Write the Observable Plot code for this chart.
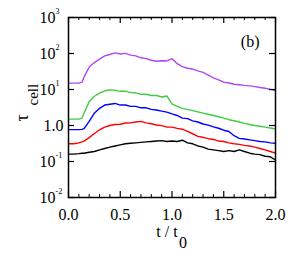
<!DOCTYPE html>
<html><head><meta charset="utf-8">
<script src="https://cdn.jsdelivr.net/npm/d3@7"></script>
<script src="https://cdn.jsdelivr.net/npm/@observablehq/plot@0.6"></script>
<style>
html,body{margin:0;padding:0;background:#fff;}
svg, svg text, svg g { font-family: "Liberation Serif", "Times New Roman", Times, "DejaVu Serif", serif !important; }
</style>
</head><body><div id="chart"></div>
<script>
const t      = [0,0.05,0.1,0.13,0.15,0.2,0.25,0.3,0.35,0.4,0.45,0.5,0.55,0.6,0.65,0.7,0.75,0.8,0.85,0.9,0.95,1.0,1.05,1.1,1.15,1.2,1.25,1.3,1.35,1.4,1.45,1.5,1.55,1.6,1.65,1.7,1.75,1.8,1.85,1.9,1.95,2.0];
const purple = [15,15,15,16,22,42,56,70,86,94,104,97,101,90,86,76,72,65,61,63,62,72,52,43,39,37,33,30,25,21,18.5,16,15.2,14,13.6,13,12.6,12,11.4,10.8,10.1,9.3];
const green  = [1.5,1.5,1.5,1.6,2.2,4.6,6.5,7.9,9.2,9.7,9.6,8.9,9.0,8.2,8.1,7.3,7.4,6.8,6.8,6.2,6.6,4.0,3.4,3.0,2.8,2.6,2.4,2.2,2.05,1.9,1.75,1.6,1.45,1.35,1.25,1.15,1.07,1.0,0.95,0.9,0.85,0.8];
const blue   = [0.77,0.77,0.77,0.78,0.82,1.3,2.2,3.0,3.7,3.9,4.1,3.7,3.7,3.4,3.4,3.1,3.1,2.8,2.7,2.5,2.35,2.1,1.9,1.6,1.55,1.35,1.25,1.1,1.02,0.92,0.84,0.74,0.68,0.52,0.44,0.42,0.4,0.38,0.36,0.35,0.33,0.32];
const red    = [0.31,0.31,0.33,0.35,0.37,0.46,0.6,0.76,0.9,1.0,1.07,1.08,1.17,1.18,1.25,1.3,1.18,1.12,1.03,0.99,0.9,0.9,0.83,0.79,0.69,0.59,0.5,0.47,0.43,0.41,0.37,0.36,0.33,0.31,0.3,0.28,0.27,0.25,0.23,0.21,0.19,0.17];
const black  = [0.16,0.16,0.165,0.17,0.17,0.18,0.19,0.21,0.23,0.25,0.27,0.29,0.31,0.32,0.33,0.34,0.35,0.36,0.37,0.38,0.36,0.37,0.36,0.39,0.33,0.31,0.27,0.25,0.22,0.21,0.2,0.19,0.2,0.19,0.21,0.19,0.17,0.16,0.155,0.14,0.135,0.11];

const seriesNames  = ["s1","s2","s3","s4","s5"];
const seriesValues = [purple, green, blue, red, black];
const seriesColors = ["#b048f0","#40cc40","#0000ff","#ff0000","#000000"];

const xMajor = [0,0.5,1,1.5,2];
const xMinor = [0.1,0.2,0.3,0.4,0.6,0.7,0.8,0.9,1.1,1.2,1.3,1.4,1.6,1.7,1.8,1.9];
const xTickLabels = ["0.0","0.5","1.0","1.5","2.0"];
const yTicks = [0.01,0.1,1,10,100,1000];
const yBase = ["10","10","1.0","10","10","10"];
const yExp  = ["-2","-1","","1","2","3"];

const W = 291, H = 260, mL = 68, mR = 16, mT = 17, mB = 63;
const pw = W - mL - mR, ph = H - mT - mB;

const rows = [];
seriesNames.forEach((s, i) => t.forEach((tt, j) => rows.push({s, t: tt, v: seriesValues[i][j]})));

const yLab = yTicks.map((v, i) => ({v, base: yBase[i], exp: yExp[i]}));

const font = "Liberation Serif";
const chart = Plot.plot({
  width: W, height: H,
  marginLeft: mL, marginRight: mR, marginTop: mT, marginBottom: mB,
  style: {fontFamily: font, fontSize: "15px", background: "white", color: "black"},
  x: {domain: [0, 2], axis: null},
  y: {type: "log", domain: [0.01, 1000], axis: null},
  color: {domain: seriesNames, range: seriesColors},
  marks: [
    Plot.line(rows, {x: "t", y: "v", z: "s", stroke: "s", strokeWidth: 1.4}),
    Plot.frame({stroke: "black", strokeWidth: 1.5}),
    Plot.tickX(xMajor, {x: d => d, insetTop: ph - 6, stroke: "black", strokeWidth: 1.2}),
    Plot.tickX(xMajor, {x: d => d, insetBottom: ph - 6, stroke: "black", strokeWidth: 1.2}),
    Plot.tickX(xMinor, {x: d => d, insetTop: ph - 3, stroke: "black", strokeWidth: 1}),
    Plot.tickX(xMinor, {x: d => d, insetBottom: ph - 3, stroke: "black", strokeWidth: 1}),
    Plot.tickY(yTicks, {y: d => d, insetRight: pw - 6, stroke: "black", strokeWidth: 1.2}),
    Plot.tickY(yTicks, {y: d => d, insetLeft: pw - 6, stroke: "black", strokeWidth: 1.2}),
    Plot.text(xMajor, {x: d => d, frameAnchor: "bottom", dy: 22, text: (d, i) => xTickLabels[i], fontSize: 16}),
    Plot.text(yLab.filter(d => d.exp), {y: "v", frameAnchor: "left", dx: -13, textAnchor: "end", text: "base", fontSize: 16}),
    Plot.text(yLab.filter(d => !d.exp), {y: "v", frameAnchor: "left", dx: -5, textAnchor: "end", text: "base", fontSize: 16}),
    Plot.text(yLab.filter(d => d.exp), {y: "v", frameAnchor: "left", dx: -13, dy: -6, textAnchor: "start", text: "exp", fontSize: 8}),
    Plot.text(["(b)"], {frameAnchor: "top-right", dx: -16, dy: 18, text: d => d, fontSize: 16}),
    Plot.text(["t / t"], {frameAnchor: "bottom", dy: 39, dx: -5, text: d => d, fontSize: 16}),
    Plot.text(["0"], {frameAnchor: "bottom", dy: 50, dx: 11, text: d => d, fontSize: 16}),
    Plot.text(["τ"], {frameAnchor: "left", dx: -46, dy: 14, rotate: -90, text: d => d, fontSize: 18}),
    Plot.text(["cell"], {frameAnchor: "left", dx: -35, dy: -2, rotate: -90, text: d => d, fontSize: 15})
  ]
});
document.getElementById("chart").append(chart);
</script></body></html>
